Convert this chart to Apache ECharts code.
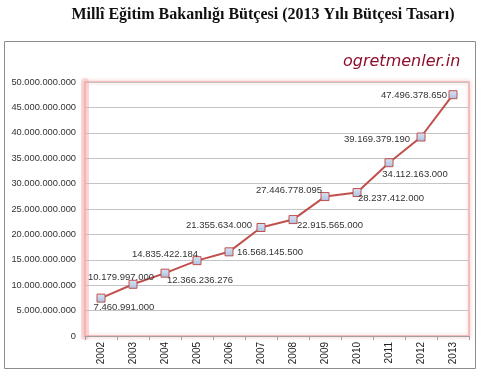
<!DOCTYPE html>
<html><head><meta charset="utf-8">
<script src="https://cdn.jsdelivr.net/npm/echarts@6/dist/echarts.min.js"></script>
<style>html,body{margin:0;padding:0;background:#fff}#c{width:485px;height:381px}</style>
</head><body><div id="c"></div>
<script>
var years = ['2002','2003','2004','2005','2006','2007','2008','2009','2010','2011','2012','2013'];
var budget = [7460991000, 10179997000, 12366236276, 14835422184, 16568145500, 21355634000,
              22915565000, 27446778095, 28237412000, 34112163000, 39169379190, 47496378650];
var budgetLabels = ['7.460.991.000','10.179.997.000','12.366.236.276','14.835.422.184','16.568.145.500','21.355.634.000',
                    '22.915.565.000','27.446.778.095','28.237.412.000','34.112.163.000','39.169.379.190','47.496.378.650'];
var yTicks = [0, 5e9, 1e10, 1.5e10, 2e10, 2.5e10, 3e10, 3.5e10, 4e10, 4.5e10, 5e10];
var labelOffsets = [[23,9],[-12,-7],[35,7],[-32,-6],[41,1],[-42,-2],[37,6],[-36,-6],[34,6],[26,12],[-44,2],[-39,1]];

function fmt(v){ return String(Math.round(v)).replace(/\B(?=(\d{3})+(?!\d))/g, '.'); }

var chart = echarts.init(document.getElementById('c'), null, {renderer:'canvas'});
var data = budget.map(function(v,i){
  return {value:v, label:{show:true, position:'inside', offset:labelOffsets[i],
    formatter: budgetLabels[i]}};
});
chart.setOption({
  animation:false,
  backgroundColor:'#fff',
  title:{text:'Millî Eğitim Bakanlığı Bütçesi (2013 Yılı Bütçesi Tasarı)', left:258, textAlign:'center', top:2,
    textStyle:{fontFamily:'Liberation Serif', fontWeight:'bold', fontSize:16, color:'#111'}},
  graphic:[
    {type:'rect', shape:{x:4.5, y:41.5, width:471, height:327}, style:{fill:'none', stroke:'#8c8c8c', lineWidth:1}, silent:true, z:-10},
    {type:'text', x:343, y:54, style:{text:'ogretmenler.in', fill:'#8e0f2a', font:'italic 16px "DejaVu Sans"'}, z:10}
  ],
  grid:{left:85, right:16, top:82, bottom:45, show:true, borderColor:'#f4bcbc', borderWidth:2,
    shadowColor:'rgba(240,140,140,0.4)', shadowBlur:4, backgroundColor:'#fff'},
  xAxis:{type:'category', data:years, boundaryGap:true,
    axisLine:{lineStyle:{color:'#a0a0a0', width:1}},
    axisTick:{show:true, length:4, lineStyle:{color:'#a0a0a0'}},
    axisLabel:{rotate:90, fontSize:10, color:'#222', fontFamily:'Liberation Sans', margin:6}},
  yAxis:{type:'value', min:0, max:5e10, interval:5e9,
    axisLine:{show:true, lineStyle:{color:'rgba(244,170,170,0.45)', width:8}},
    axisTick:{show:false},
    splitLine:{lineStyle:{color:'#c4c4c4', width:1}},
    axisLabel:{fontSize:9.3, color:'#333', fontFamily:'Liberation Sans', margin:9,
      formatter:function(v){ return yTicks.indexOf(v) >= 0 ? fmt(v) : ''; }}},
  series:[{type:'line', data:data, symbol:'rect', symbolSize:8,
    lineStyle:{color:'#c0504d', width:2},
    itemStyle:{color:new echarts.graphic.LinearGradient(0,0,0,1,[{offset:0,color:'#dbe5f4'},{offset:1,color:'#a9c0e2'}]),
      borderColor:'#c0504d', borderWidth:1},
    label:{fontSize:9.5, color:'#333', fontFamily:'Liberation Sans'}}]
});
</script></body></html>
